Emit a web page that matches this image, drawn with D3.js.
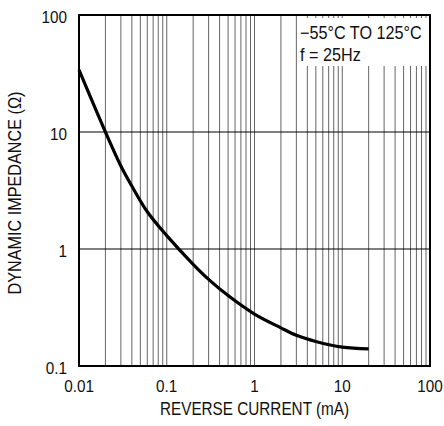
<!DOCTYPE html>
<html>
<head>
<meta charset="utf-8">
<script src="https://cdn.jsdelivr.net/npm/d3@7"></script>
<style>
  body { margin: 0; background: #fff; }
  svg text { font-family: "Liberation Sans", Arial, sans-serif; fill: #111; }
</style>
</head>
<body>
<svg id="chart"></svg>
<script>
// Dynamic impedance vs reverse current (log-log)
const currentMA = [0.01, 0.02, 0.03, 0.04, 0.06, 0.1, 0.2, 0.3, 0.5, 1, 2, 3, 5, 10, 20];
const impedance = [33.9, 10, 5.12, 3.45, 2.08, 1.3, 0.74, 0.55, 0.40, 0.278, 0.212, 0.183, 0.162, 0.145, 0.14];

const xTicks = [0.01, 0.1, 1, 10, 100];
const xTickLabels = ['0.01', '0.1', '1', '10', '100'];
const yTicks = [0.1, 1, 10, 100];
const yTickLabels = ['0.1', '1', '10', '100'];

const legendLines = ['\u221255\u00B0C TO 125\u00B0C', 'f = 25Hz'];

const width = 444, height = 426;
const margin = { top: 15, right: 14, bottom: 60, left: 79 };
const narrow = 0.9;   // fake a condensed face

const svg = d3.select('#chart').attr('width', width).attr('height', height);

const x = d3.scaleLog().domain([0.01, 100]).range([margin.left, width - margin.right]);
const y = d3.scaleLog().domain([0.1, 100]).range([height - margin.bottom, margin.top]);

// minor + major vertical grid
const vGrid = [];
for (let d = 0.01; d < 100; d *= 10) {
    for (let k = 2; k <= 9; k++) vGrid.push(d * k);
}
xTicks.slice(1, -1).forEach(t => vGrid.push(t));

svg.append('g')
    .selectAll('line')
    .data(vGrid)
    .enter()
    .append('line')
    .attr('x1', d => x(d)).attr('x2', d => x(d))
    .attr('y1', y(100)).attr('y2', y(0.1))
    .attr('stroke', '#666')
    .attr('stroke-width', 1);

// horizontal major grid
svg.append('g')
    .selectAll('line')
    .data(yTicks.slice(1, -1))
    .enter()
    .append('line')
    .attr('x1', x(0.01)).attr('x2', x(100))
    .attr('y1', d => y(d)).attr('y2', d => y(d))
    .attr('stroke', '#000')
    .attr('stroke-width', 1);

// legend box covers grid
const lg = svg.append('g');
lg.append('rect')
    .attr('x', 299).attr('y', 18)
    .attr('width', 130).attr('height', 48)
    .attr('fill', '#fff');
lg.selectAll('text')
    .data(legendLines)
    .enter()
    .append('text')
    .attr('transform', (d, i) => `translate(300, ${39 + i * 22}) scale(${narrow}, 1)`)
    .style('font-size', '18px')
    .text(d => d);

// curve
const line = d3.line()
    .x((d, i) => x(currentMA[i]))
    .y(d => y(d))
    .curve(d3.curveCatmullRom.alpha(0.5));

svg.append('path')
    .datum(impedance)
    .attr('d', line)
    .attr('fill', 'none')
    .attr('stroke', '#000')
    .attr('stroke-width', 3.2);

// frame
svg.append('rect')
    .attr('x', x(0.01)).attr('y', y(100))
    .attr('width', x(100) - x(0.01))
    .attr('height', y(0.1) - y(100))
    .attr('fill', 'none')
    .attr('stroke', '#000')
    .attr('stroke-width', 2);

// tick labels
svg.append('g')
    .selectAll('text')
    .data(xTicks)
    .enter()
    .append('text')
    .attr('transform', d => `translate(${x(d)}, ${y(0.1) + 26}) scale(${narrow}, 1)`)
    .attr('text-anchor', 'middle')
    .style('font-size', '17px')
    .text((d, i) => xTickLabels[i]);

svg.append('g')
    .selectAll('text')
    .data(yTicks)
    .enter()
    .append('text')
    .attr('transform', d => `translate(${x(0.01) - 12}, ${y(d) + 7.5}) scale(${narrow}, 1)`)
    .attr('text-anchor', 'end')
    .style('font-size', '17px')
    .text((d, i) => yTickLabels[i]);

// axis titles
svg.append('text')
    .attr('transform', `translate(${(x(0.01) + x(100)) / 2}, 415) scale(0.85, 1)`)
    .attr('text-anchor', 'middle')
    .style('font-size', '18px')
    .text('REVERSE CURRENT (mA)');

svg.append('text')
    .attr('transform', `translate(21, 193) rotate(-90) scale(${narrow}, 1)`)
    .attr('text-anchor', 'middle')
    .style('font-size', '18px')
    .text('DYNAMIC IMPEDANCE (\u03A9)');
</script>
</body>
</html>
